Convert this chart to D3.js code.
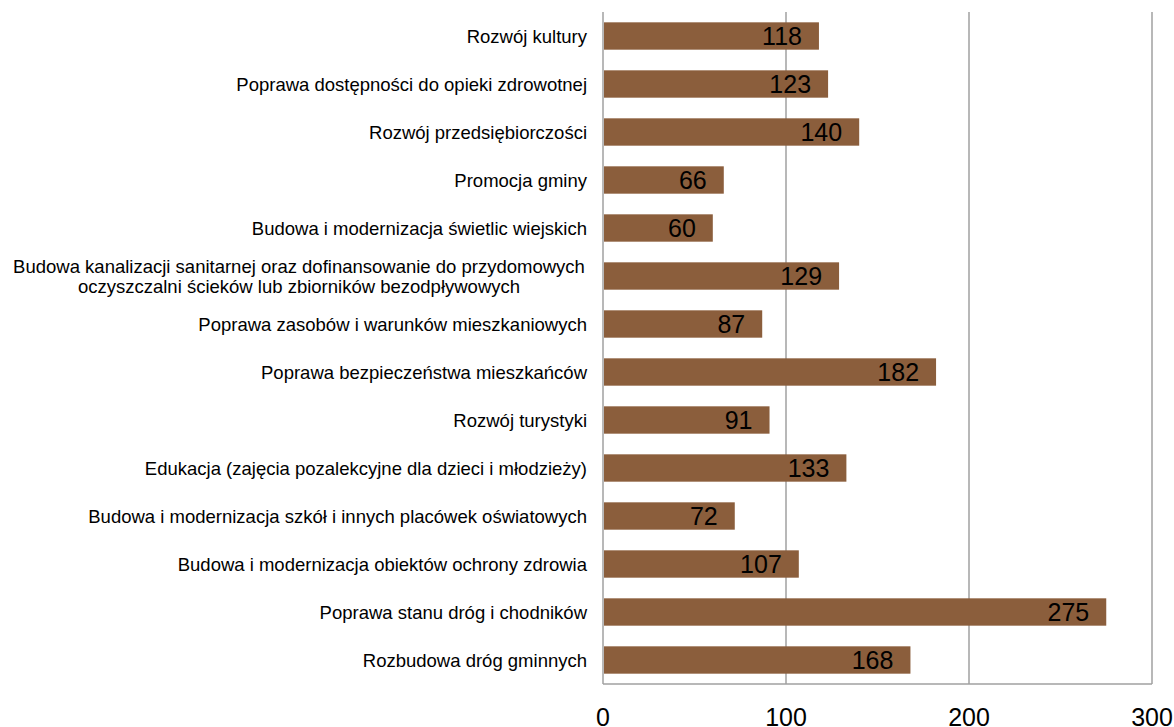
<!DOCTYPE html>
<html>
<head>
<meta charset="utf-8">
<script src="https://cdn.jsdelivr.net/npm/d3@7"></script>
<style>
  body { margin: 0; background: #fff; }
  text { font-family: "Liberation Sans", Arial, sans-serif; }
</style>
</head>
<body>
<svg id="chart" width="1174" height="727"></svg>
<script>
// categories, top to bottom
var categories = [
    "Rozwój kultury",
    "Poprawa dostępności do opieki zdrowotnej",
    "Rozwój przedsiębiorczości",
    "Promocja gminy",
    "Budowa i modernizacja świetlic wiejskich",
    "Budowa kanalizacji sanitarnej oraz dofinansowanie do przydomowych\noczyszczalni ścieków lub zbiorników bezodpływowych",
    "Poprawa zasobów i warunków mieszkaniowych",
    "Poprawa bezpieczeństwa mieszkańców",
    "Rozwój turystyki",
    "Edukacja (zajęcia pozalekcyjne dla dzieci i młodzieży)",
    "Budowa i modernizacja szkół i innych placówek oświatowych",
    "Budowa i modernizacja obiektów ochrony zdrowia",
    "Poprawa stanu dróg i chodników",
    "Rozbudowa dróg gminnych"
];
var values = [118, 123, 140, 66, 60, 129, 87, 182, 91, 133, 72, 107, 275, 168];
var xTicks = [0, 100, 200, 300];

var svg = d3.select("#chart");
var plotLeft = 603, plotRight = 1152, plotTop = 12, plotBottom = 684;

var x = d3.scaleLinear().domain([0, 300]).range([plotLeft, plotRight]);
var y = d3.scaleBand().domain(d3.range(categories.length)).range([plotTop, plotBottom]).paddingInner(0.43).paddingOuter(0.215);

// gridlines
svg.append("g")
    .selectAll("line")
    .data(xTicks)
    .enter()
    .append("line")
    .attr("x1", function(d) { return x(d); })
    .attr("x2", function(d) { return x(d); })
    .attr("y1", plotTop)
    .attr("y2", plotBottom)
    .attr("stroke", "#a0a0a0")
    .attr("stroke-width", 1.5);

svg.append("line")
    .attr("x1", plotLeft).attr("x2", plotRight)
    .attr("y1", plotBottom).attr("y2", plotBottom)
    .attr("stroke", "#a0a0a0")
    .attr("stroke-width", 1.5);

// bars
svg.append("g")
    .selectAll("rect")
    .data(values)
    .enter()
    .append("rect")
    .attr("x", x(0) + 1)
    .attr("y", function(d, i) { return y(i); })
    .attr("width", function(d) { return x(d) - x(0) - 1; })
    .attr("height", y.bandwidth())
    .attr("fill", "#8b5e3c");

// value labels, inside end
svg.append("g")
    .selectAll("text")
    .data(values)
    .enter()
    .append("text")
    .attr("x", function(d) { return x(d) - 17; })
    .attr("y", function(d, i) { return y(i) + y.bandwidth() / 2 + 9; })
    .attr("text-anchor", "end")
    .attr("font-size", 25)
    .attr("fill", "#000")
    .text(function(d) { return d; });

// category labels
svg.append("g")
    .selectAll("text")
    .data(categories)
    .enter()
    .append("text")
    .attr("text-anchor", "middle")
    .attr("font-size", 18.5)
    .attr("fill", "#000")
    .each(function(d, i) {
        var lines = d.split("\n"),
            cy = y(i) + y.bandwidth() / 2,
            t = d3.select(this);
        if (lines.length === 1) {
            t.attr("text-anchor", "end");
            t.append("tspan").attr("x", 587).attr("y", cy + 7).text(lines[0]);
        } else {
            lines.forEach(function(line, j) {
                t.append("tspan")
                    .attr("x", 299)
                    .attr("y", cy + 7 + (j - (lines.length - 1) / 2) * 20.5)
                    .text(line);
            });
        }
    });

// x tick labels
svg.append("g")
    .selectAll("text")
    .data(xTicks)
    .enter()
    .append("text")
    .attr("x", function(d) { return x(d); })
    .attr("y", 727 - 1)
    .attr("text-anchor", "middle")
    .attr("font-size", 25)
    .attr("fill", "#000")
    .text(function(d) { return d; });
</script>
</body>
</html>
